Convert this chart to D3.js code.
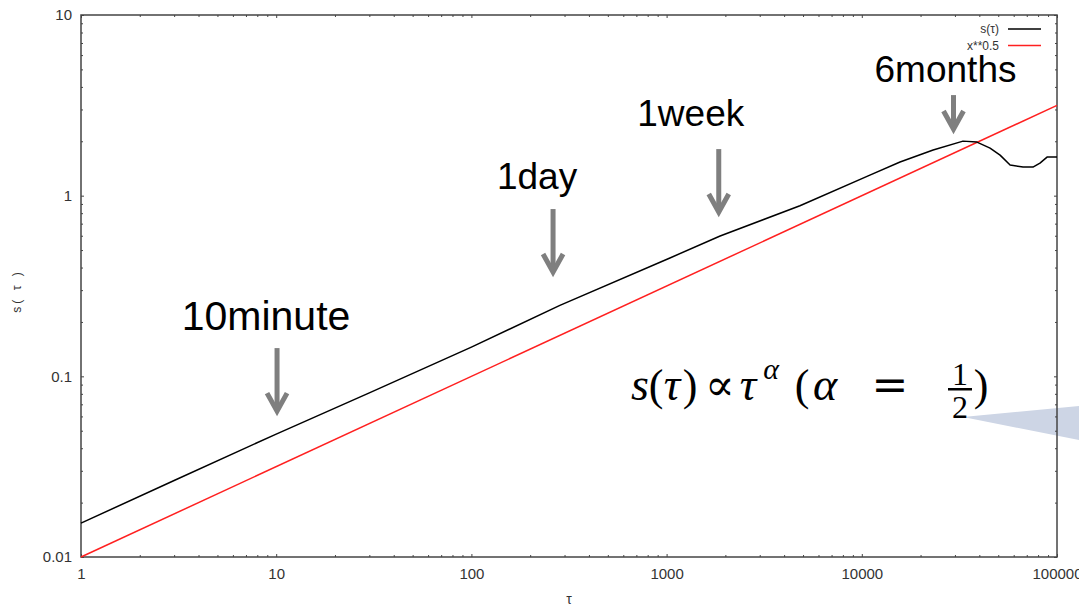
<!DOCTYPE html>
<html><head><meta charset="utf-8">
<script src="https://cdn.jsdelivr.net/npm/d3@7"></script>
<style>body{margin:0;background:#fff}svg{display:block}</style>
</head><body>
<svg id="c" width="1079" height="610"></svg>
<script>
// ---------- data ----------
const xMajorTicks = [1, 10, 100, 1000, 10000, 100000];
const xTickLabels = ["1", "10", "100", "1000", "10000", "100000"];
const yMajorTicks = [0.01, 0.1, 1, 10];
const yTickLabels = ["0.01", "0.1", "1", "10"];

const tau  = [1, 3, 10, 30, 100, 284, 1040, 1880, 4820, 11000, 15700, 23200, 33000, 38900, 45400, 51100, 57500, 67000, 75300, 81800, 88900, 100000];
const sTau = [0.0154, 0.0265, 0.0479, 0.081, 0.145, 0.247, 0.452, 0.598, 0.88, 1.30, 1.535, 1.788, 2.004, 1.98, 1.834, 1.677, 1.477, 1.44, 1.44, 1.515, 1.635, 1.635];

const refTau = [1, 100000];
const refValues = [0.01, 3.16];

const seriesNames = ["s(\u03c4)", "x**0.5"];
const seriesColors = ["#000000", "#ff2020"];

const annotationLabels = ["10minute", "1day", "1week", "6months"];
const annotationTau = [10.1, 262, 1850, 29500];
const annotationTipValue = [0.0634, 0.373, 0.801, 2.307];

// ---------- layout ----------
const m = {l: 81, r: 1057, t: 15, b: 557};
const svg = d3.select("#c");
const x = d3.scaleLog().domain([1, 100000]).range([m.l, m.r]);
const y = d3.scaleLog().domain([0.01, 10]).range([m.b, m.t]);

const tickFont = "'Liberation Sans Narrow','Liberation Sans',Arial,sans-serif";

// callout tail (under the frame)
svg.append("polygon")
  .attr("points", "963,417 1079,406 1079,440")
  .attr("fill", "#cdd5e5");

// ---------- axes ----------
const xMinor = x.ticks().filter(d => !xMajorTicks.includes(d));
const yMinor = y.ticks().filter(d => !yMajorTicks.some(v => Math.abs(v - d) < 1e-9));

function styleAxis(g) {
  g.select(".domain").remove();
  g.selectAll(".tick line").attr("stroke", "#444").attr("stroke-width", 1);
  g.selectAll("text").attr("font-family", tickFont).attr("font-size", 15).attr("fill", "#333");
}

svg.append("g").attr("transform", `translate(0,${m.b})`)
  .call(d3.axisBottom(x).tickValues(xMajorTicks).tickFormat((d, i) => xTickLabels[i]).tickSizeInner(-3).tickSizeOuter(0).tickPadding(11))
  .call(styleAxis);
svg.append("g").attr("transform", `translate(0,${m.b})`)
  .call(d3.axisBottom(x).tickValues(xMinor).tickFormat("").tickSizeInner(-2).tickSizeOuter(0))
  .call(styleAxis);
svg.append("g").attr("transform", `translate(0,${m.t})`)
  .call(d3.axisTop(x).tickValues(xMajorTicks).tickFormat("").tickSizeInner(-3).tickSizeOuter(0))
  .call(styleAxis);
svg.append("g").attr("transform", `translate(0,${m.t})`)
  .call(d3.axisTop(x).tickValues(xMinor).tickFormat("").tickSizeInner(-2).tickSizeOuter(0))
  .call(styleAxis);

svg.append("g").attr("transform", `translate(${m.l},0)`)
  .call(d3.axisLeft(y).tickValues(yMajorTicks).tickFormat((d, i) => yTickLabels[i]).tickSizeInner(-3).tickSizeOuter(0).tickPadding(9))
  .call(styleAxis);
svg.append("g").attr("transform", `translate(${m.l},0)`)
  .call(d3.axisLeft(y).tickValues(yMinor).tickFormat("").tickSizeInner(-2).tickSizeOuter(0))
  .call(styleAxis);
svg.append("g").attr("transform", `translate(${m.r},0)`)
  .call(d3.axisRight(y).tickValues(yMajorTicks).tickFormat("").tickSizeInner(-3).tickSizeOuter(0))
  .call(styleAxis);
svg.append("g").attr("transform", `translate(${m.r},0)`)
  .call(d3.axisRight(y).tickValues(yMinor).tickFormat("").tickSizeInner(-2).tickSizeOuter(0))
  .call(styleAxis);

// frame
svg.append("rect")
  .attr("x", m.l).attr("y", m.t).attr("width", m.r - m.l).attr("height", m.b - m.t)
  .attr("fill", "none").attr("stroke", "#444").attr("stroke-width", 1.5);

// axis titles
svg.append("text")
  .attr("transform", "translate(21,291) rotate(-90)")
  .attr("text-anchor", "middle")
  .attr("font-family", tickFont).attr("font-size", 12).attr("fill", "#333")
  .attr("letter-spacing", 3)
  .text("s( \u03c4 )");
svg.append("text")
  .attr("x", (m.l + m.r) / 2).attr("y", 604)
  .attr("text-anchor", "middle")
  .attr("font-family", tickFont).attr("font-size", 14).attr("fill", "#333")
  .text("\u03c4");

// ---------- series ----------
const line = d3.line().x(d => x(d[0])).y(d => y(d[1]));
svg.append("path")
  .datum(refTau.map((t, i) => [t, refValues[i]]))
  .attr("d", line).attr("fill", "none")
  .attr("stroke", seriesColors[1]).attr("stroke-width", 1.5);
svg.append("path")
  .datum(tau.map((t, i) => [t, sTau[i]]))
  .attr("d", line).attr("fill", "none")
  .attr("stroke", seriesColors[0]).attr("stroke-width", 1.5).attr("stroke-linejoin", "round");

// ---------- legend ----------
const legend = svg.append("g");
seriesNames.forEach((name, i) => {
  const ly = 29 + i * 16.5;
  legend.append("text")
    .attr("x", 999).attr("y", ly + 4)
    .attr("text-anchor", "end")
    .attr("font-family", tickFont).attr("font-size", 12).attr("fill", "#333")
    .text(name);
  legend.append("line")
    .attr("x1", 1008).attr("x2", 1041).attr("y1", ly).attr("y2", ly)
    .attr("stroke", seriesColors[i]).attr("stroke-width", 1.5);
});

// ---------- annotations ----------
const arrowLen = [64, 64, 64, 35];
const labelDx = [-11, -16, -28, -8];
const labelDy = [-82, -84, -87, -48];
const labelSize = [41, 37, 37, 37];
annotationLabels.forEach((lab, i) => {
  const ax = x(annotationTau[i]);
  const ty = y(annotationTipValue[i]);
  svg.append("line")
    .attr("x1", ax).attr("x2", ax).attr("y1", ty - arrowLen[i]).attr("y2", ty - 2)
    .attr("stroke", "#7f7f7f").attr("stroke-width", 5);
  svg.append("path")
    .attr("d", `M${ax - 10},${ty - 19}L${ax},${ty - 1}L${ax + 10},${ty - 19}`)
    .attr("fill", "none").attr("stroke", "#7f7f7f").attr("stroke-width", 5)
    .attr("stroke-linejoin", "miter");
  svg.append("text")
    .attr("x", ax + labelDx[i]).attr("y", ty + labelDy[i])
    .attr("text-anchor", "middle")
    .attr("font-family", "'Liberation Sans',Arial,sans-serif")
    .attr("font-size", labelSize[i]).attr("fill", "#000")
    .text(lab);
});

// ---------- formula ----------
const serif = "'Liberation Serif','DejaVu Serif',serif";
const fg = svg.append("g").attr("fill", "#000");
const glyphs = [
  {t: "s", x: 640, y: 400, s: 46, it: true},
  {t: "(", x: 656, y: 400, s: 44},
  {t: "\u03c4", x: 672, y: 400, s: 46, it: true},
  {t: ")", x: 690, y: 400, s: 44},
  {t: "\u221d", x: 720, y: 400, s: 44, f: "'DejaVu Serif',serif"},
  {t: "\u03c4", x: 748, y: 400, s: 46, it: true},
  {t: "\u03b1", x: 771, y: 379, s: 30, it: true},
  {t: "(", x: 802, y: 400, s: 44},
  {t: "\u03b1", x: 825, y: 400, s: 46, it: true},
  {t: "=", x: 890, y: 400, s: 44, f: "'DejaVu Serif',serif"},
  {t: "1", x: 960, y: 385, s: 32},
  {t: "2", x: 960, y: 418, s: 32},
  {t: ")", x: 981, y: 400, s: 44}
];
glyphs.forEach(g => {
  fg.append("text")
    .attr("x", g.x).attr("y", g.y)
    .attr("text-anchor", "middle")
    .attr("font-family", g.f || serif)
    .attr("font-style", g.it ? "italic" : "normal")
    .attr("font-size", g.s)
    .text(g.t);
});
fg.append("rect").attr("x", 948).attr("y", 388).attr("width", 24).attr("height", 2.5);
</script>
</body></html>
